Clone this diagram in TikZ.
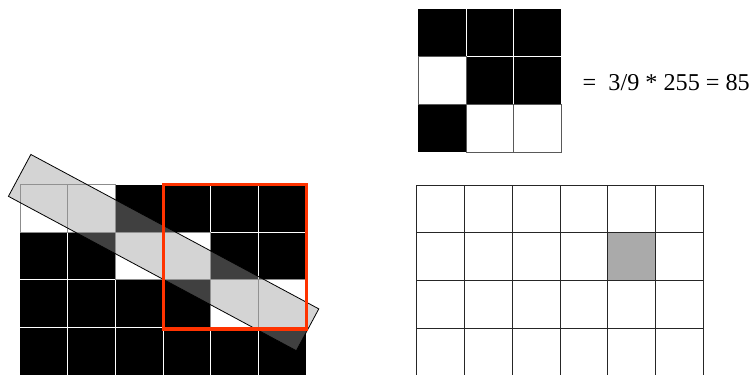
\documentclass[tikz,border=0pt]{standalone}
\usepackage{fontspec}
\setmainfont{Liberation Serif}
\definecolor{redframe}{RGB}{255,51,0}
\definecolor{cellgray}{RGB}{170,170,170}
\tikzset{
  blackcell/.style={fill=black},
  whitecell/.style={fill=white,draw=gray!90,line width=0.9pt},
  sepline/.style={draw=white,line width=0.9pt},
  gridline/.style={draw=black!85,line width=1pt},
  band/.style={fill=black!40,fill opacity=0.42,draw=black,line width=0.8pt},
  frame/.style={draw=redframe,line width=3.4pt},
  eqtext/.style={font=\fontsize{24.2}{27}\selectfont,inner sep=0pt}
}
\begin{document}
\begin{tikzpicture}[x=1pt,y=-1pt]
\useasboundingbox (0,0) rectangle (753,375);
\clip (0,0) rectangle (753,375);
\fill[white] (0,0) rectangle (753,375);
% ---------- left image grid ----------
\def\s{47.7}
\begin{scope}[shift={(20,184.5)}]
  \fill[blackcell] (0,0) rectangle (6*\s,4*\s+5);
  \foreach \k in {1,...,5} \draw[sepline] (\k*\s,0) -- (\k*\s,4*\s+5);
  \foreach \k in {1,...,3} \draw[sepline] (0,\k*\s) -- (6*\s,\k*\s);
  \foreach \c/\r in {0/0,1/0,2/1,3/1,4/2,5/2}
    \draw[whitecell] (\c*\s,\r*\s) rectangle ++(\s,\s);
\end{scope}
% translucent band
\coordinate (bA) at (30.87,154.47);
\coordinate (bD) at (318.79,308.87);
\coordinate (bC) at (296.34,350.73);
\coordinate (bB) at (8.42,196.33);
\draw[band] (bA) -- (bD) -- (bC) -- (bB) -- cycle;
% red window
\coordinate (rTL) at (163.3,184.3);
\coordinate (rBR) at (306.4,329.0);
\draw[frame] (rTL) rectangle (rBR);
% ---------- top right 3x3 window ----------
\begin{scope}[shift={(418.3,9)}]
  \fill[blackcell] (0,0) rectangle (3*\s,3*\s);
  \foreach \k in {1,2} \draw[sepline] (\k*\s,0) -- (\k*\s,3*\s);
  \foreach \k in {1,2} \draw[sepline] (0,\k*\s) -- (3*\s,\k*\s);
  \foreach \c/\r in {0/1,1/2,2/2}
    \draw[whitecell,draw=black!65] (\c*\s,\r*\s) rectangle ++(\s,\s);
\end{scope}
\node[eqtext,anchor=base west] (eq) at (582.5,90.5) {=\ \ 3/9 * 255 = 85};
% ---------- bottom right output grid ----------
\def\t{47.8}
\begin{scope}[shift={(416.7,185)}]
  \fill[cellgray] (4*\t,1*\t) rectangle ++(\t,\t);
  \foreach \k in {0,...,6} \draw[gridline] (\k*\t,0) -- (\k*\t,4*\t+5);
  \foreach \k in {0,...,4} \draw[gridline] (0,\k*\t) -- (6*\t,\k*\t);
\end{scope}
\end{tikzpicture}
\end{document}
